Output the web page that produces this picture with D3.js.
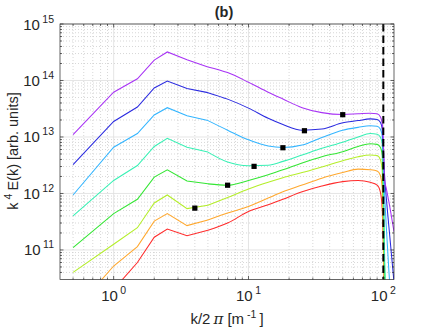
<!DOCTYPE html>
<html><head><meta charset="utf-8">
<script src="https://cdn.jsdelivr.net/npm/d3@7"></script>
<style>
body{margin:0;background:#fff}
svg{display:block}
text{font-family:"Liberation Sans",Arial,Helvetica,sans-serif;fill:#262626}
</style>
</head><body>
<svg id="c" width="436" height="327"></svg>
<script>
// wavenumber grid k/2pi [1/m]
const k = [0.5,1,1.5,2,2.5,3.5,5,7,10,14,18,25,35,50,65,80,90,95,98,100,102,105,110,120];
// k^4 E(k) [arb. units]
const violetVals = [1.10e13,6.2e13,1.07e14,2.29e14,3.2e14,2.34e14,1.74e14,1.38e14,9.3e13,6.2e13,4.7e13,3.3e13,2.7e13,2.5e13,2.57e13,2.63e13,2.57e13,2.29e13,1.78e13,8.9e12,1.74e12,1.26e12,7.1e11,2.1e11];
const blueVals   = [3.24e12,1.88e13,3.39e13,7.36e13,9.8e13,7.24e13,6.1e13,4.68e13,3.24e13,2.14e13,1.66e13,1.32e13,1.38e13,1.78e13,1.95e13,2.09e13,2.04e13,1.82e13,1.41e13,6.3e12,2.24e12,8.9e11,2.57e11,2.7e10];
const skyVals    = [9.4e11,6.6e12,1.15e13,2.45e13,3.3e13,2.38e13,1.95e13,1.32e13,8.9e12,6.9e12,6.5e12,7.2e12,9.8e12,1.32e13,1.48e13,1.58e13,1.55e13,1.38e13,1.05e13,4.0e12,1.12e12,2.8e11,4.2e10,3.2e9];
const aquaVals   = [4.0e11,1.7e12,3.13e12,6.8e12,9.5e12,6.6e12,5.4e12,3.6e12,3.1e12,3.16e12,3.7e12,4.8e12,6.3e12,8.1e12,1.0e13,1.15e13,1.12e13,1.0e13,7.6e12,2.0e12,1.0e11,1.0e10,3.0e9,1.0e9];
const greenVals  = [1.1e11,4.4e11,7.9e11,1.95e12,2.63e12,1.66e12,1.48e12,1.4e12,1.7e12,2.14e12,2.63e12,3.47e12,4.47e12,5.5e12,6.76e12,7.6e12,7.4e12,6.6e12,4.8e12,1.0e12,6.3e10,1.0e10,3.0e9,1.0e9];
const limeVals   = [4.0e10,1.26e11,2.48e11,6.8e11,9.4e11,5.4e11,6.2e11,8.5e11,1.2e12,1.58e12,1.9e12,2.34e12,2.95e12,3.8e12,4.47e12,4.8e12,4.7e12,4.0e12,2.63e12,4.0e11,3.2e10,1.0e10,3.0e9,1.0e9];
const orangeVals = [7.9e9,5.2e10,1.15e11,3.24e11,4.4e11,2.7e11,3.4e11,4.5e11,5.9e11,8.3e11,1.07e12,1.41e12,1.86e12,2.34e12,2.7e12,2.63e12,2.5e12,2.1e12,1.26e12,1.6e11,1.6e10,3.0e9,1.6e9,1.0e9];
const redVals    = [3.2e9,2.0e10,6.0e10,1.68e11,2.34e11,1.78e11,2.24e11,3.0e11,4.8e11,6.3e11,7.9e11,1.07e12,1.35e12,1.62e12,1.7e12,1.58e12,1.41e12,1.07e12,5.6e11,1.26e11,1.26e10,3.0e9,1.6e9,1.0e9];
const seriesColors = ["#ff2b2b","#ffa82e","#b4ee2a","#33e633","#38f0b4","#33b5ff","#2b2be0","#a833f5"];
// minima markers
const markerK = [50, 26, 18, 11, 7, 4];
const markerV = [2.48e13, 1.29e13, 6.45e12, 3.02e12, 1.4e12, 5.5e11];
const xTickValues = [1, 10, 100];
const xTickExp = ["0","1","2"];
const yTickValues = [1e11, 1e12, 1e13, 1e14, 1e15];
const yTickExp = ["11","12","13","14","15"];
const cutoffK = 100;

const allSeries = [redVals, orangeVals, limeVals, greenVals, aquaVals, skyVals, blueVals, violetVals];

const svg = d3.select("#c");
const L = 60, R = 394, T = 24, B = 279.5;
const x = d3.scaleLog().domain([0.4, 120]).range([L, R]);
const y = d3.scaleLog().domain([3e10, 1e15]).range([B, T]);

const xMinor = [];
[0.1, 1, 10].forEach(d => { for (let m = 2; m <= 9; m++) { const v = m * d; if (v > 0.4 && v < 120 && !xTickValues.includes(v)) xMinor.push(v); } });
const yMinor = [];
[1e10, 1e11, 1e12, 1e13, 1e14].forEach(d => { for (let m = 2; m <= 9; m++) { const v = m * d; if (v > 3e10 && v < 1e15) yMinor.push(v); } });

const grid = svg.append("g");
grid.selectAll(".xm").data(xMinor).join("line")
  .attr("x1", d => x(d)).attr("x2", d => x(d)).attr("y1", T).attr("y2", B)
  .attr("stroke", "#c6c6c6").attr("stroke-width", 0.7).attr("stroke-dasharray", "1,2");
grid.selectAll(".ym").data(yMinor).join("line")
  .attr("y1", d => y(d)).attr("y2", d => y(d)).attr("x1", L).attr("x2", R)
  .attr("stroke", "#c6c6c6").attr("stroke-width", 0.7).attr("stroke-dasharray", "1,2");
grid.selectAll(".xM").data(xTickValues).join("line")
  .attr("x1", d => x(d)).attr("x2", d => x(d)).attr("y1", T).attr("y2", B)
  .attr("stroke", "#dedede").attr("stroke-width", 0.8);
grid.selectAll(".yM").data(yTickValues).join("line")
  .attr("y1", d => y(d)).attr("y2", d => y(d)).attr("x1", L).attr("x2", R)
  .attr("stroke", "#dedede").attr("stroke-width", 0.8);

svg.append("clipPath").attr("id", "clip").append("rect")
  .attr("x", L).attr("y", T).attr("width", R - L).attr("height", B - T);

const plot = svg.append("g").attr("clip-path", "url(#clip)");
const lineGen = d3.line().x(d => x(d[0])).y(d => y(d[1]));
const splitK = 5;
allSeries.forEach((vals, i) => {
  const pts = k.map((kk, j) => [kk, vals[j]]);
  const left = pts.filter(p => p[0] <= splitK);
  const right = pts.filter(p => p[0] >= splitK);
  plot.append("path").attr("d", lineGen.curve(d3.curveLinear)(left))
    .attr("fill", "none").attr("stroke", seriesColors[i]).attr("stroke-width", 1.05);
  plot.append("path").attr("d", lineGen.curve(d3.curveMonotoneX)(right))
    .attr("fill", "none").attr("stroke", seriesColors[i]).attr("stroke-width", 1.05);
});

plot.append("line").attr("x1", x(cutoffK)).attr("x2", x(cutoffK)).attr("y1", T).attr("y2", B)
  .attr("stroke", "#000").attr("stroke-width", 2).attr("stroke-dasharray", "7.5,4");

plot.selectAll(".mk").data(markerK.map((kk, i) => [kk, markerV[i]])).join("rect")
  .attr("x", d => x(d[0]) - 2.6).attr("y", d => y(d[1]) - 2.6)
  .attr("width", 5.2).attr("height", 5.2).attr("fill", "#000");

const ax = svg.append("g").attr("stroke", "#262626").attr("stroke-width", 0.7);
const majLen = 3.5, minLen = 2;
xTickValues.forEach(v => {
  ax.append("line").attr("x1", x(v)).attr("x2", x(v)).attr("y1", B).attr("y2", B - majLen);
  ax.append("line").attr("x1", x(v)).attr("x2", x(v)).attr("y1", T).attr("y2", T + majLen);
});
xMinor.forEach(v => {
  ax.append("line").attr("x1", x(v)).attr("x2", x(v)).attr("y1", B).attr("y2", B - minLen);
  ax.append("line").attr("x1", x(v)).attr("x2", x(v)).attr("y1", T).attr("y2", T + minLen);
});
yTickValues.forEach(v => {
  ax.append("line").attr("y1", y(v)).attr("y2", y(v)).attr("x1", L).attr("x2", L + majLen);
  ax.append("line").attr("y1", y(v)).attr("y2", y(v)).attr("x1", R).attr("x2", R - majLen);
});
yMinor.forEach(v => {
  ax.append("line").attr("y1", y(v)).attr("y2", y(v)).attr("x1", L).attr("x2", L + minLen);
  ax.append("line").attr("y1", y(v)).attr("y2", y(v)).attr("x1", R).attr("x2", R - minLen);
});
svg.append("rect").attr("x", L).attr("y", T).attr("width", R - L).attr("height", B - T)
  .attr("fill", "none").attr("stroke", "#262626").attr("stroke-width", 0.7);

yTickValues.forEach((v, i) => {
  const t = svg.append("text").attr("x", 54).attr("y", y(v) + 5.5).attr("text-anchor", "end")
    .attr("font-size", 15);
  t.append("tspan").text("10");
  t.append("tspan").attr("dx", 2.5).attr("dy", -7).attr("font-size", 10.5).text(yTickExp[i]);
});
xTickValues.forEach((v, i) => {
  const t = svg.append("text").attr("x", x(v)).attr("y", 301).attr("text-anchor", "middle")
    .attr("font-size", 15);
  t.append("tspan").text("10");
  t.append("tspan").attr("dx", 2.5).attr("dy", -7).attr("font-size", 10.5).text(xTickExp[i]);
});

const xl = svg.append("text").attr("x", 227).attr("y", 324).attr("text-anchor", "middle").attr("font-size", 15);
xl.append("tspan").text("k/2");
xl.append("tspan").attr("dx", 3).attr("font-family", "'DejaVu Serif',serif").attr("font-style", "italic").text("π");
xl.append("tspan").text(" [m");
xl.append("tspan").attr("dx", 3).attr("dy", -6.5).attr("font-size", 10.5).text("-1");
xl.append("tspan").attr("dx", 3).attr("dy", 6.5).text("]");

const yl = svg.append("text").attr("transform", "translate(18,151) rotate(-90)")
  .attr("text-anchor", "middle").attr("font-size", 14.5);
yl.append("tspan").text("k");
yl.append("tspan").attr("dx", 3).attr("dy", -6.5).attr("font-size", 10.5).text("4");
yl.append("tspan").attr("dx", 3).attr("dy", 6.5).text("E(k) [arb. units]");

svg.append("text").attr("x", 224).attr("y", 16.5).attr("text-anchor", "middle")
  .attr("font-size", 14.5).attr("font-weight", "bold").text("(b)");
</script>
</body></html>
